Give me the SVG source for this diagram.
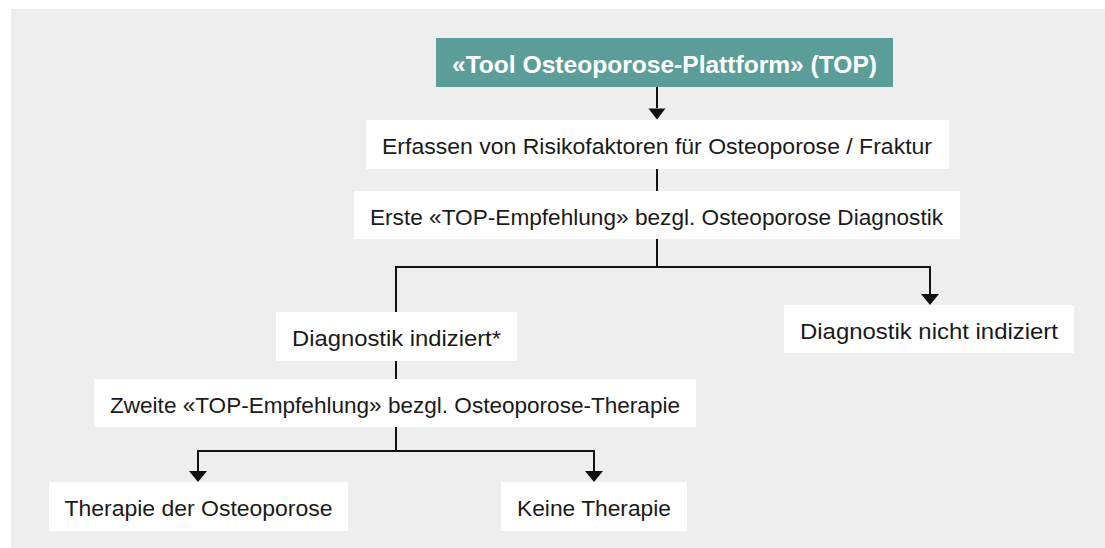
<svg xmlns="http://www.w3.org/2000/svg" width="1105" height="548" viewBox="0 0 1105 548">
<defs>
<style>
.box{fill:#ffffff}
.title{fill:#5b9e99}
.t{font-family:"Liberation Sans",Arial,sans-serif;font-size:22px;fill:#1a1a1a;text-anchor:middle}
.tt{font-family:"Liberation Sans",Arial,sans-serif;font-size:23.5px;font-weight:bold;fill:#ffffff;text-anchor:middle}
.ln{stroke:#111111;stroke-width:2;fill:none}
</style>
</defs>
<rect x="11" y="9" width="1094" height="539" fill="#eeeeee"/>
<g id="connectors">
<path class="ln" d="M657,87 V108"/>
<path d="M648.5,108.5 L665.5,108.5 L657,119.5 Z" fill="#111111"/>
<path class="ln" d="M657,169 V191"/>
<path class="ln" d="M657,239 V267 M396,267 H930 M930,266 V294"/>
<path d="M921,294 L939,294 L930,305 Z" fill="#111111"/>
<path class="ln" d="M396,266 V312"/>
<path class="ln" d="M396,361 V379"/>
<path class="ln" d="M396,427 V451 M198,451 H594 M198,450 V471 M594,450 V471"/>
<path d="M189,471 L207,471 L198,482 Z" fill="#111111"/>
<path d="M585,471 L603,471 L594,482 Z" fill="#111111"/>
</g>
<g id="n-title">
<rect class="title" x="436" y="38" width="457" height="49"/>
<text class="tt" x="664.5" y="72.5" textLength="425" lengthAdjust="spacingAndGlyphs">«Tool Osteoporose-Plattform» (TOP)</text>
</g>
<g id="n-erfassen">
<rect class="box" x="366" y="120" width="583" height="49"/>
<text class="t" x="657" y="154" textLength="550" lengthAdjust="spacingAndGlyphs">Erfassen von Risikofaktoren für Osteoporose / Fraktur</text>
</g>
<g id="n-erste">
<rect class="box" x="354" y="191" width="606" height="48"/>
<text class="t" x="656.5" y="225" textLength="573" lengthAdjust="spacingAndGlyphs">Erste «TOP-Empfehlung» bezgl. Osteoporose Diagnostik</text>
</g>
<g id="n-indiziert">
<rect class="box" x="276" y="312" width="241" height="49"/>
<text class="t" x="396.5" y="346" textLength="209" lengthAdjust="spacingAndGlyphs">Diagnostik indiziert*</text>
</g>
<g id="n-nicht">
<rect class="box" x="784" y="305" width="290" height="48"/>
<text class="t" x="929" y="339" textLength="258" lengthAdjust="spacingAndGlyphs">Diagnostik nicht indiziert</text>
</g>
<g id="n-zweite">
<rect class="box" x="94" y="379" width="602" height="48"/>
<text class="t" x="395" y="413" textLength="570" lengthAdjust="spacingAndGlyphs">Zweite «TOP-Empfehlung» bezgl. Osteoporose-Therapie</text>
</g>
<g id="n-therapie">
<rect class="box" x="49" y="482" width="299" height="49"/>
<text class="t" x="198.5" y="516" textLength="268" lengthAdjust="spacingAndGlyphs">Therapie der Osteoporose</text>
</g>
<g id="n-keine">
<rect class="box" x="501" y="482" width="186" height="49"/>
<text class="t" x="594" y="516" textLength="154" lengthAdjust="spacingAndGlyphs">Keine Therapie</text>
</g>
</svg>
